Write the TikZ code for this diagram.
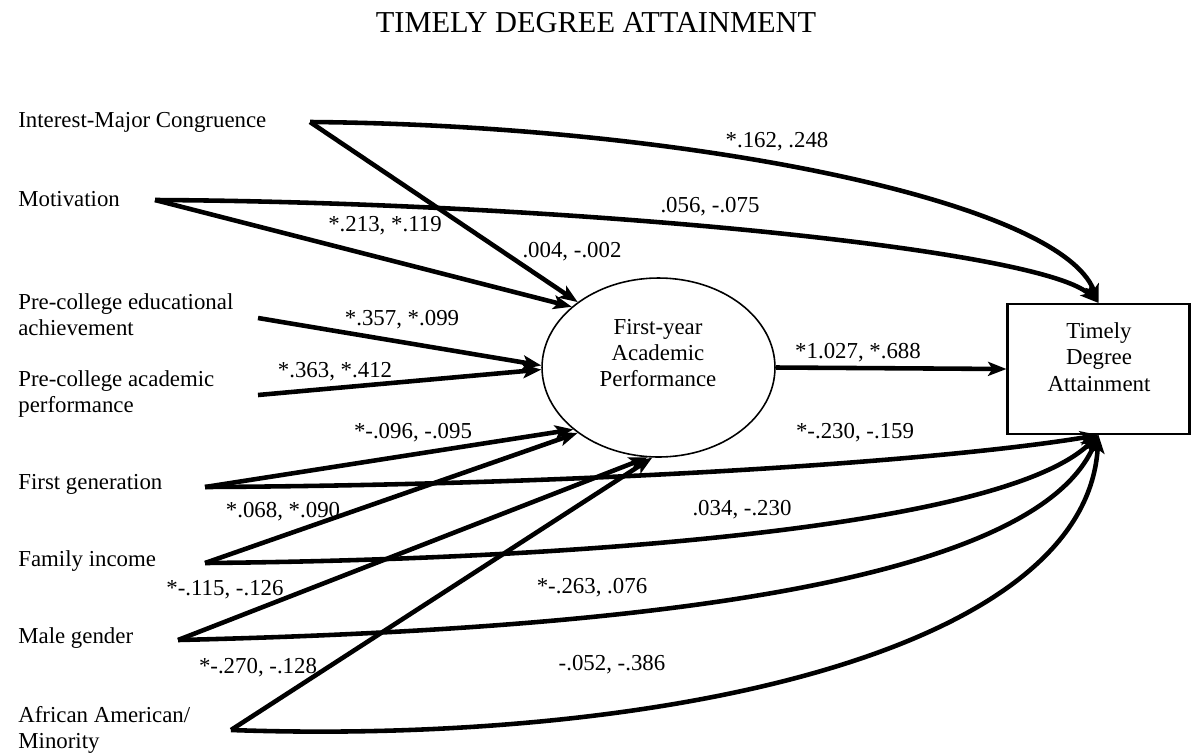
\documentclass[tikz,border=0pt]{standalone}
\usepackage{fontspec}
\setmainfont{Liberation Serif}
\usetikzlibrary{arrows.meta,shapes.geometric}

\begin{document}
\begin{tikzpicture}[x=0.02cm,y=-0.02cm,
    font=\fontsize{13}{15}\selectfont,
    var/.style={anchor=west,align=left,inner sep=0pt},
    coef/.style={inner sep=0pt},
    arr/.style={line width=2.6pt,-{Stealth[length=10.5pt,width=8pt,inset=2.5pt]}},
    latent/.style={ellipse,draw,line width=0.9pt,minimum width=4.66cm,minimum height=3.58cm,inner sep=0pt},
    observed/.style={rectangle,draw,line width=1.2pt,minimum width=3.64cm,minimum height=2.6cm}]
          \useasboundingbox (0,0) rectangle (1192,754);

          \node[font=\fontsize{17.3}{20}\selectfont] (title) at (596,23) {TIMELY DEGREE ATTAINMENT};

          % predictors
          \node[var] (imcv) at (18,122) {Interest-Major Congruence};
          \node[var] (motv) at (18,199) {Motivation};
          \node[var] (pcev) at (18,315) {Pre-college educational\\achievement};
          \node[var] (pcav) at (18,394) {Pre-college academic\\performance};
          \node[var] (fgv) at (18,484) {First generation};
          \node[var] (fiv) at (18,561) {Family income};
          \node[var] (mgv) at (18,638) {Male gender};
          \node[var] (aamv) at (18,730) {African American/\\Minority};

          \coordinate (imc) at (310,122);
          \coordinate (mot) at (155,200);
          \coordinate (pce) at (258,318);
          \coordinate (pca) at (258,395);
          \coordinate (fg) at (205,487);
          \coordinate (fi) at (205,563);
          \coordinate (mg) at (178,640);
          \coordinate (aam) at (231,730);

          % mediator and outcome
          \node[latent] (fap) at (658.5,367.5) {};
          \node[coef,align=center] (faptxt) at (658,353) {First-year\\Academic\\Performance};
          \node[observed] (tda) at (1098.5,369) {};
          \node[coef,align=center] (tdatxt) at (1099,357) {Timely\\Degree\\Attainment};

          % paths to first-year performance
          \draw[arr] (imc) -- (fap.141);
          \draw[arr] (mot) -- (fap.145);
          \draw[arr] (pce) -- (fap.179);
          \draw[arr] (pca) -- (fap.181);
          \draw[arr] (fg) -- (fap.216);
          \draw[arr] (fi) -- (fap.219);
          \draw[arr] (mg) -- (fap.263);
          \draw[arr] (aam) -- (fap.266);
          \draw[arr] (fap.east) -- (tda.west);

          % direct paths to degree attainment
          \draw[arr] (imc) .. controls (680,125) and (1060,200) .. (tda.north);
          \draw[arr] (mot) .. controls (550,202) and (1040,248) .. (tda.north);
          \draw[arr] (fg) .. controls (600,485) and (950,460) .. (tda.south);
          \draw[arr] (fi) .. controls (550,560) and (1000,530) .. (tda.south);
          \draw[arr] (mg) .. controls (600,630) and (1030,590) .. (tda.south);
          \draw[arr] (aam) .. controls (650,745) and (1085,655) .. (tda.south);

          % coefficients
          \node[coef] (c1) at (777,142) {*.162, .248};
          \node[coef] (c2) at (710,207) {.056, -.075};
          \node[coef] (c3) at (385,226) {*.213, *.119};
          \node[coef] (c4) at (572,252) {.004, -.002};
          \node[coef] (c5) at (402,320) {*.357, *.099};
          \node[coef] (c6) at (335,372) {*.363, *.412};
          \node[coef] (c7) at (413,433) {*-.096, -.095};
          \node[coef] (c8) at (858,353) {*1.027, *.688};
          \node[coef] (c9) at (855,433) {*-.230, -.159};
          \node[coef] (c10) at (283,512) {*.068, *.090};
          \node[coef] (c11) at (742,510) {.034, -.230};
          \node[coef] (c12) at (225,590) {*-.115, -.126};
          \node[coef] (c13) at (592,588) {*-.263, .076};
          \node[coef] (c14) at (258,668) {*-.270, -.128};
          \node[coef] (c15) at (612,665) {-.052, -.386};
        \end{tikzpicture}
\end{document}
